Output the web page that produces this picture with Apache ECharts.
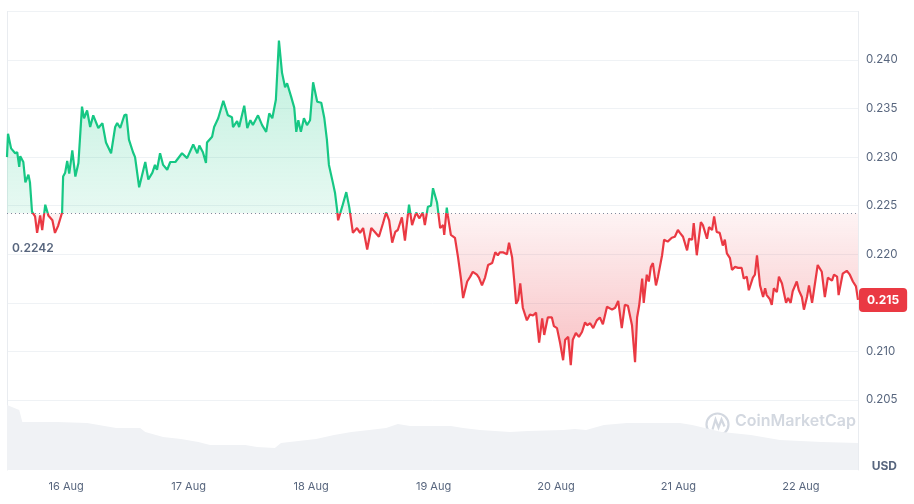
<!DOCTYPE html>
<html>
<head>
<meta charset="utf-8">
<script src="https://cdn.jsdelivr.net/npm/echarts@6/dist/echarts.min.js"></script>
<style>
html, body { margin: 0; padding: 0; background: #fff; }
#chart { width: 914px; height: 504px; }
</style>
</head>
<body>
<div id="chart"></div>
<script>
// hours from 16 Aug 00:00, and price in USD
var hours = [-11.6, -11.4, -10.8, -10.0, -9.6, -9.2, -9.0, -8.4, -8.0, -7.4, -7.1, -6.7, -6.1, -5.7, -5.1, -4.7, -4.1, -3.5, -2.7, -2.2, -1.6, -0.8,
    -0.6, -0.2, 0.2, 0.6, 1.2, 1.8, 2.4, 3.1, 3.5, 4.1, 4.7, 5.3, 6.3, 7.1, 7.8, 8.8, 9.6, 10.0, 10.6, 11.4, 11.8, 12.3, 13.1, 13.5, 14.3,
    15.5, 16.1, 16.9, 17.4, 17.8, 18.4, 19.0, 19.8, 20.4, 21.4, 22.7, 23.7, 24.9, 25.7, 26.1, 26.8, 27.4, 27.6, 28.6, 29.0, 29.8, 30.8,
    31.7, 32.5, 32.7, 33.5, 33.9, 34.9, 35.5, 36.1, 36.6, 37.6, 38.4, 39.2, 39.8, 40.4, 41.1, 41.7, 42.3, 42.9, 43.3, 44.1, 44.7, 45.1,
    45.5, 46.0, 46.6, 47.2, 47.8, 48.4, 49.2, 50.0, 50.6, 51.1, 51.5, 52.3, 52.7, 53.1, 53.3, 54.1, 54.9, 55.5, 56.2, 57.0, 57.6, 58.2,
    59.0, 59.8, 60.5, 61.3, 62.1, 62.7, 63.3, 63.9, 64.5, 65.0, 65.8, 66.4, 67.2, 67.8, 68.6, 69.2, 69.9, 70.3, 70.9, 71.5, 71.9, 72.7,
    73.3, 73.9, 74.1, 74.6, 74.8, 75.4, 76.2, 76.8, 77.4, 77.8, 78.6, 79.2, 79.7, 80.5, 80.9, 81.5, 82.1, 82.7, 83.5, 84.1, 84.6, 85.0,
    85.6, 86.4, 86.8, 87.4, 87.8, 88.2, 88.6, 89.0, 89.5, 90.3, 90.9, 91.5, 92.1, 92.7, 93.3, 93.7, 94.4, 95.2, 95.6, 96.2, 96.8, 97.4,
    97.8, 98.4, 98.9, 99.3, 99.9, 100.5, 101.1, 101.7, 102.1, 102.7, 103.3, 104.0, 104.6, 105.2, 106.0, 107.0, 107.6, 108.2, 108.9,
    109.5, 110.1, 110.9, 111.5, 111.9, 112.3, 112.9, 113.2, 113.8, 114.2, 114.6, 115.0, 115.6, 116.0, 116.8, 117.2, 117.9, 118.7, 119.3,
    119.9, 120.3, 120.9, 121.7, 122.1, 122.7, 123.0, 123.6, 124.4, 124.8, 125.6, 126.0, 126.6, 127.0, 127.5, 128.1, 128.7, 129.1, 129.5,
    130.1, 130.5, 131.1, 131.7, 132.4, 132.8, 133.4, 133.8, 134.6, 135.0, 135.4, 136.0, 136.6, 137.0, 137.3, 137.9, 138.3, 138.7, 139.3,
    139.7, 140.3, 140.7, 141.1, 141.5, 142.0, 142.4, 143.2, 143.6, 144.2, 144.6, 145.2, 145.6, 146.2, 146.6, 146.9, 147.3, 148.1, 148.7,
    149.3, 150.1, 150.5, 151.1, 151.4, 152.2, 153.0, 153.6, 154.2, 154.8, 155.2];
var prices = [0.2300, 0.2324, 0.2309, 0.2304, 0.2305, 0.2290, 0.2301, 0.2295, 0.2274, 0.2282, 0.2274, 0.2244, 0.2239, 0.2222, 0.2240, 0.2225, 0.2251, 0.2240, 0.2235, 0.2222, 0.2229, 0.2243,
    0.2280, 0.2284, 0.2296, 0.2283, 0.2307, 0.2280, 0.2294, 0.2352, 0.2340, 0.2348, 0.2331, 0.2343, 0.2330, 0.2335, 0.2315, 0.2304, 0.2331, 0.2335, 0.2330, 0.2343, 0.2344, 0.2318, 0.2305, 0.2300, 0.2269,
    0.2295, 0.2277, 0.2284, 0.2292, 0.2287, 0.2304, 0.2292, 0.2287, 0.2295, 0.2295, 0.2304, 0.2299, 0.2313, 0.2304, 0.2312, 0.2305, 0.2294, 0.2315, 0.2321, 0.2331, 0.2340, 0.2358,
    0.2343, 0.2341, 0.2331, 0.2337, 0.2331, 0.2353, 0.2330, 0.2338, 0.2333, 0.2343, 0.2333, 0.2326, 0.2345, 0.2340, 0.2359, 0.2420, 0.2387, 0.2372, 0.2376, 0.2362, 0.2351, 0.2326,
    0.2338, 0.2326, 0.2340, 0.2333, 0.2338, 0.2377, 0.2357, 0.2356, 0.2340, 0.2318, 0.2292, 0.2273, 0.2263, 0.2246, 0.2235, 0.2249, 0.2264, 0.2248, 0.2222, 0.2227, 0.2222, 0.2227,
    0.2205, 0.2227, 0.2223, 0.2218, 0.2232, 0.2243, 0.2235, 0.2212, 0.2223, 0.2225, 0.2238, 0.2214, 0.2251, 0.2230, 0.2243, 0.2237, 0.2243, 0.2230, 0.2249, 0.2250, 0.2268, 0.2253,
    0.2227, 0.2230, 0.2220, 0.2248, 0.2240, 0.2220, 0.2217, 0.2197, 0.2174, 0.2155, 0.2172, 0.2177, 0.2182, 0.2179, 0.2176, 0.2168, 0.2176, 0.2189, 0.2191, 0.2202, 0.2199, 0.2202,
    0.2202, 0.2200, 0.2212, 0.2197, 0.2174, 0.2149, 0.2153, 0.2170, 0.2145, 0.2132, 0.2138, 0.2137, 0.2140, 0.2109, 0.2134, 0.2117, 0.2135, 0.2135, 0.2126, 0.2124, 0.2109, 0.2091,
    0.2112, 0.2115, 0.2086, 0.2112, 0.2119, 0.2115, 0.2120, 0.2130, 0.2127, 0.2129, 0.2124, 0.2132, 0.2135, 0.2128, 0.2146, 0.2143, 0.2145, 0.2152, 0.2124,
    0.2148, 0.2147, 0.2127, 0.2089, 0.2135, 0.2147, 0.2175, 0.2150, 0.2179, 0.2172, 0.2187, 0.2191, 0.2168, 0.2177, 0.2199, 0.2215, 0.2213, 0.2217, 0.2218,
    0.2225, 0.2222, 0.2218, 0.2204, 0.2216, 0.2215, 0.2232, 0.2199, 0.2233, 0.2230, 0.2216, 0.2228, 0.2225, 0.2239, 0.2223, 0.2222, 0.2209, 0.2215, 0.2201,
    0.2196, 0.2184, 0.2187, 0.2186, 0.2186, 0.2175, 0.2177, 0.2163, 0.2176, 0.2179, 0.2199, 0.2168, 0.2156, 0.2165, 0.2158, 0.2154, 0.2148, 0.2165, 0.2161,
    0.2177, 0.2170, 0.2160, 0.2150, 0.2155, 0.2150, 0.2162, 0.2172, 0.2163, 0.2156, 0.2143, 0.2156, 0.2168, 0.2150, 0.2164, 0.2166, 0.2189, 0.2182, 0.2156,
    0.2176, 0.2173, 0.2179, 0.2177, 0.2158, 0.2180, 0.2183, 0.2179, 0.2172, 0.2167, 0.2153];

// rolling volume (millions USD)
var volHours = [-11.6, -9.2, -8.6, -1.8, 4.1, 9.8, 14.5, 15.5, 19.0, 22.5, 25.9, 28.2, 35.1, 37.4, 40.9, 42.1, 45.5, 49.0, 52.5, 55.9, 59.4,
    62.7, 65.0, 67.4, 75.4, 77.8, 81.1, 87.0, 90.5, 97.4, 99.7, 101.9, 105.4, 109.9, 113.4, 120.3, 122.7, 128.5, 134.2, 139.9, 148.1, 155.2];
var volumes = [130, 120, 96, 96, 94, 84, 84, 76, 66, 62, 56, 50, 50, 46, 44, 54, 58, 62, 70, 76, 80,
    84, 92, 88, 88, 84, 80, 76, 78, 80, 82, 80, 90, 94, 94, 94, 90, 76, 70, 60, 56, 54];

var openPrice = 0.2242;
var months = ['Jan', 'Feb', 'Mar', 'Apr', 'May', 'Jun', 'Jul', 'Aug', 'Sep', 'Oct', 'Nov', 'Dec'];

var base = new Date(2024, 7, 16).getTime();
var hour = 3600 * 1000;
var priceData = hours.map(function (h, i) { return [base + h * hour, prices[i]]; });
var volData = volHours.map(function (h, i) { return [base + h * hour, volumes[i]]; });
var tMin = priceData[0][0];
var tMax = priceData[priceData.length - 1][0];
var lastPrice = prices[prices.length - 1];
var maxP = Math.max.apply(null, prices);
var minP = Math.min.apply(null, prices);
var split = (maxP - openPrice) / (maxP - minP);

var green = '#16c784';
var red = '#ea3943';
var grey = '#58667e';
var font = 'Inter';

var chart = echarts.init(document.getElementById('chart'));
var option = {
    animation: false,
    textStyle: { fontFamily: font },
    grid: [
        { left: 7, right: 56, top: 11.4, bottom: 55.4 },
        { left: 7, right: 56, top: 400, bottom: 34 }
    ],
    xAxis: [
        {
            type: 'time', gridIndex: 0, min: tMin, max: tMax,
            axisLine: { show: false }, axisTick: { show: false },
            axisLabel: { show: false }, splitLine: { show: false }
        },
        {
            type: 'time', gridIndex: 1, min: tMin, max: tMax,
            minInterval: 24 * hour, maxInterval: 24 * hour,
            axisLine: { show: false }, axisTick: { show: false },
            splitLine: { show: false },
            axisLabel: {
                color: grey, fontSize: 11, margin: 11,
                formatter: function (v) {
                    var d = new Date(v);
                    return d.getDate() + ' ' + months[d.getMonth()];
                }
            }
        }
    ],
    yAxis: [
        {
            type: 'value', gridIndex: 0, position: 'right',
            min: 0.200, max: 0.245, interval: 0.005,
            axisLine: { show: true, lineStyle: { color: '#e9ecf0' } },
            axisTick: { show: false },
            axisLabel: {
                color: grey, fontSize: 11.5, margin: 8,
                showMinLabel: false, showMaxLabel: false,
                formatter: function (v) { return v.toFixed(3); }
            },
            splitLine: { showMinLine: false, lineStyle: { color: '#eff2f5' } }
        },
        {
            type: 'value', gridIndex: 0, position: 'left',
            min: 0.200, max: 0.245,
            axisLine: { show: true, lineStyle: { color: '#e9ecf0' } },
            axisTick: { show: false }, axisLabel: { show: false }, splitLine: { show: false }
        },
        {
            type: 'value', gridIndex: 1, position: 'right', min: 0, max: 140,
            axisLine: { show: true, lineStyle: { color: '#e9ecf0' } },
            axisTick: { show: false }, axisLabel: { show: false }, splitLine: { show: false }
        },
        {
            type: 'value', gridIndex: 1, position: 'left', min: 0, max: 140,
            axisLine: { show: true, lineStyle: { color: '#e9ecf0' } },
            axisTick: { show: false }, axisLabel: { show: false }, splitLine: { show: false }
        }
    ],
    visualMap: {
        show: false,
        type: 'piecewise',
        seriesIndex: 1,
        dimension: 1,
        pieces: [
            { gte: 0, lt: openPrice, color: red },
            { gte: openPrice, lte: 1, color: green }
        ],
        outOfRange: { color: red }
    },
    graphic: [
        {
            type: 'text', right: 17, top: 460,
            style: { text: 'USD', fill: grey, font: 'bold 12px Inter' }
        },
        {
            type: 'circle', left: 704, top: 411,
            shape: { r: 11 },
            style: { fill: 'none', stroke: '#d3d8e0', lineWidth: 2.2 }
        },
        {
            type: 'polyline', left: 710, top: 417,
            shape: { points: [[0, 11], [3, 1], [6, 9], [9, 1], [12, 8]] },
            style: { fill: 'none', stroke: '#d3d8e0', lineWidth: 2.2 }
        },
        {
            type: 'text', left: 735, top: 413,
            style: { text: 'CoinMarketCap', fill: '#d3d8e0', font: '600 16px Inter' }
        }
    ],
    series: [
        {
            name: 'Volume',
            type: 'line',
            xAxisIndex: 1,
            yAxisIndex: 2,
            symbol: 'none',
            silent: true,
            lineStyle: { width: 0 },
            areaStyle: { color: '#f0f2f5', opacity: 1 },
            data: volData
        },
        {
            name: 'Price',
            type: 'line',
            xAxisIndex: 0,
            yAxisIndex: 0,
            symbol: 'none',
            lineStyle: { width: 2.2 },
            areaStyle: {
                origin: openPrice,
                opacity: 1,
                color: new echarts.graphic.LinearGradient(0, 0, 0, 1, [
                    { offset: 0, color: 'rgba(22,199,132,0.28)' },
                    { offset: split, color: 'rgba(22,199,132,0.10)' },
                    { offset: split, color: 'rgba(234,57,67,0.06)' },
                    { offset: 1, color: 'rgba(234,57,67,0.32)' }
                ])
            },
            markLine: {
                silent: true,
                symbol: 'none',
                precision: 4,
                data: [
                    {
                        yAxis: openPrice,
                        lineStyle: { type: [1, 3], color: '#808a9d', width: 1 },
                        label: {
                            position: 'insideStartBottom',
                            distance: 0,
                            padding: [29, 0, 0, 5],
                            color: grey, fontSize: 12, fontWeight: 600,
                            formatter: function () { return openPrice.toFixed(4); }
                        }
                    },
                    {
                        yAxis: lastPrice,
                        lineStyle: { color: 'rgba(0,0,0,0)', width: 0, opacity: 1 },
                        label: {
                            position: 'end',
                            distance: 1,
                            opacity: 1,
                            backgroundColor: red,
                            borderRadius: 4,
                            padding: [6, 8],
                            color: '#fff', fontSize: 12, fontWeight: 'bold',
                            formatter: function () { return lastPrice.toFixed(3); }
                        }
                    }
                ]
            },
            data: priceData
        }
    ]
};
chart.setOption(option);
</script>
</body>
</html>
